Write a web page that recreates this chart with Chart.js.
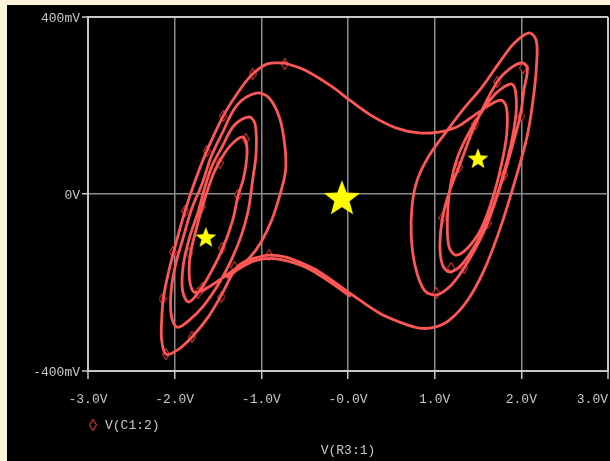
<!DOCTYPE html>
<html><head><meta charset="utf-8">
<script src="https://cdn.jsdelivr.net/npm/chart.js@4/dist/chart.umd.min.js"></script>
<style>
html,body{margin:0;padding:0;background:#fdf4dc;width:610px;height:461px;overflow:hidden;}
#wrap{position:absolute;left:7px;top:5px;width:603px;height:456px;background:#000;}
canvas{display:block;}
</style></head><body>
<div id="wrap"><canvas id="c" width="603" height="456" style="width:603px;height:456px"></canvas></div>
<script>
// ---- tick labels ----
const xTickLabels = ['-3.0V', '-2.0V', '-1.0V', '-0.0V', '1.0V', '2.0V', '3.0V'];
const yTickLabels = ['-400mV', '0V', '400mV'];
const xTitle = 'V(R3:1)';
const legendLabel = 'V(C1:2)';

// ---- trajectory V(R3:1) [V] vs V(C1:2) [mV] ----
const upperTransitV  = [-0.73, -0.50, -0.18, 0.02, 0.28, 0.56, 0.82, 1.05, 1.25, 1.40, 1.51, 1.65];
const upperTransitMV = [296, 280, 242, 212, 176, 149, 138, 140, 151, 170, 185, 203];

const rightScrollV = [1.77, 1.83, 1.83, 1.77, 1.67, 1.54, 1.38, 1.24, 1.16, 1.15, 1.19, 1.26, 1.38, 1.54, 1.71,
  1.88, 1.93, 1.94, 1.88, 1.78, 1.65, 1.49, 1.31, 1.17, 1.09, 1.06, 1.09, 1.17, 1.28, 1.47, 1.72,
  1.88, 2.01, 2.07, 2.03, 1.99, 1.90, 1.80, 1.61, 1.46, 1.34, 1.19, 1.02, 0.88, 0.78, 0.73, 0.74,
  0.80, 0.94, 1.15, 1.34, 1.54, 1.75, 1.92, 2.09, 2.17, 2.18, 2.15, 2.07, 1.93, 1.75, 1.57, 1.38,
  1.17, 1.00, 0.82, 0.59];
const rightScrollMV = [212, 194, 133, 66, -9, -77, -122, -138, -115, -41, 27, 81, 133, 185, 228,
  249, 235, 185, 111, 36, -41, -108, -160, -176, -160, -115, -54, 5, 61, 158, 253,
  285, 296, 285, 235, 179, 111, 43, -66, -127, -167, -206, -228, -217, -167, -97, -25,
  32, 88, 145, 194, 240, 298, 341, 364, 348, 307, 235, 133, 32, -81, -172, -240,
  -285, -301, -303, -289];

const lowerTransitV  = [0.36, 0.02, -0.33, -0.56, -0.73, -0.91, -1.08, -1.20];
const lowerTransitMV = [-269, -224, -176, -154, -142, -138, -145, -156];

const leftScrollV = [-1.35, -1.52, -1.67, -1.78, -1.83, -1.82, -1.76, -1.69, -1.62, -1.55, -1.46, -1.35, -1.22,
  -1.17, -1.17, -1.21, -1.27, -1.33, -1.44, -1.58, -1.72, -1.84, -1.91, -1.90, -1.83, -1.73, -1.65,
  -1.57, -1.46, -1.31, -1.14, -1.07, -1.06, -1.10, -1.15, -1.23, -1.33, -1.48, -1.66, -1.83, -1.97,
  -2.04, -2.04, -1.99, -1.91, -1.80, -1.68, -1.58, -1.45, -1.28, -1.06, -0.91, -0.79, -0.73, -0.72,
  -0.78, -0.88, -1.00, -1.14, -1.29, -1.46, -1.62, -1.80, -1.97, -2.10, -2.15, -2.15, -2.13, -2.07,
  -1.99, -1.88, -1.76, -1.63, -1.44, -1.25, -1.10, -0.93];
const leftScrollMV = [-176, -199, -217, -221, -190, -138, -86, -36, 9, 47, 81, 111, 129,
  111, 77, 32, -5, -59, -120, -176, -221, -244, -217, -160, -99, -41, 16,
  63, 104, 156, 174, 156, 93, 32, -36, -93, -142, -199, -251, -285, -301,
  -273, -217, -160, -104, -32, 25, 84, 138, 201, 228, 217, 172, 111, 54,
  2, -59, -108, -145, -167, -228, -280, -323, -353, -362, -330, -285, -235, -176,
  -115, -38, 32, 97, 176, 235, 271, 294];

// second pass along the lower transit (thick band)
const bandV  = [0.02, -0.33, -0.56, -0.85, -1.08, -1.25, -1.39];
const bandMV = [-230, -183, -160, -146, -151, -168, -188];

// diamond markers of the V(C1:2) trace
const markerV  = [-0.73, -1.10, -1.44, -1.63, -1.18, -1.48, -1.27, -1.88, -1.69, -2.02, -1.83, -1.45, -1.31, -0.91,
  -2.14, -1.73, -1.68, -1.46, -1.80, -2.10,
  2.02, 1.72, 2.00, 1.47, 1.28, 1.80, 1.09, 1.61, 1.19, 1.34, 1.02];
const markerMV = [294, 271, 176, 97, 124, 70, -2, -38, -29, -131, -133, -122, -165, -138,
  -237, -224, -212, -233, -323, -362,
  285, 253, 176, 158, 61, 43, -54, -66, -167, -167, -224];

// equilibrium stars
const starV  = [-1.64, 1.50, -0.07];
const starMV = [-97, 81, -7];

// ---- helpers ----
function pts(xs, ys) { return xs.map((x, i) => ({x: x, y: ys[i]})); }
const loopPts = [].concat(
  pts(upperTransitV, upperTransitMV),
  pts(rightScrollV, rightScrollMV),
  pts(lowerTransitV, lowerTransitMV),
  pts(leftScrollV, leftScrollMV),
  pts(upperTransitV.slice(0, 1), upperTransitMV.slice(0, 1))
);

function makeStar(R) {
  const c = document.createElement('canvas');
  const s = Math.ceil(R * 2 + 2);
  c.width = s; c.height = s;
  const g = c.getContext('2d');
  g.fillStyle = '#ffff00';
  g.beginPath();
  const cx = s / 2, cy = s / 2 + R * 0.1, r = R * 0.42;
  for (let i = 0; i < 10; i++) {
    const a = -Math.PI / 2 + i * Math.PI / 5;
    const rr = i % 2 === 0 ? R : r;
    const px = cx + rr * Math.cos(a), py = cy + rr * Math.sin(a);
    if (i === 0) g.moveTo(px, py); else g.lineTo(px, py);
  }
  g.closePath(); g.fill();
  return c;
}
function makeDiamond() {
  const c = document.createElement('canvas');
  c.width = 8; c.height = 12;
  const g = c.getContext('2d');
  g.beginPath();
  g.moveTo(4, 0.5); g.lineTo(7.5, 6); g.lineTo(4, 11.5); g.lineTo(0.5, 6); g.closePath();
  g.fillStyle = '#000'; g.fill();
  g.strokeStyle = '#c83434'; g.lineWidth = 1.2; g.stroke();
  return c;
}
const smallStar = makeStar(11);
const bigStar = makeStar(19);
const diamondImg = makeDiamond();

const FONT = {family: '"Liberation Mono", "DejaVu Sans Mono", monospace', size: 13};
const TXT = '#c8c8c8';
const LINE = '#ff5656';

const legendPlugin = {
  id: 'pspiceLegend',
  afterDraw(chart) {
    const {ctx, chartArea} = chart;
    const x = chartArea.left + 5, y = chartArea.bottom + 54;
    ctx.save();
    ctx.drawImage(diamondImg, x - diamondImg.width / 2, y - diamondImg.height / 2);
    ctx.fillStyle = TXT;
    ctx.font = FONT.size + 'px ' + FONT.family;
    ctx.textBaseline = 'middle';
    ctx.textAlign = 'left';
    ctx.fillText(legendLabel, x + 12, y + 1);
    ctx.restore();
  }
};

new Chart(document.getElementById('c'), {
  type: 'scatter',
  data: {
    datasets: [
      {data: loopPts, showLine: true, borderColor: LINE, borderWidth: 2.8, pointRadius: 0, tension: 0.35,
       borderJoinStyle: 'round', borderCapStyle: 'round', fill: false},
      {data: pts(bandV, bandMV), showLine: true, borderColor: LINE, borderWidth: 2.8, pointRadius: 0, tension: 0.35,
       borderCapStyle: 'round', fill: false},
      {data: pts(markerV, markerMV), showLine: false, pointStyle: diamondImg, pointRadius: 4},
      {data: pts(starV, starMV), showLine: false, pointRadius: 4,
       pointStyle: (c) => c.dataIndex === 2 ? bigStar : smallStar}
    ]
  },
  options: {
    responsive: false,
    animation: false,
    events: [],
    layout: {autoPadding: false, padding: {left: 0, top: 12, right: 2, bottom: 0}},
    plugins: {legend: {display: false}, tooltip: {enabled: false}},
    scales: {
      x: {
        type: 'linear', min: -3, max: 3,
        afterFit: (s) => { s.height = 90; s.paddingLeft = 0; s.paddingRight = 0; },
        ticks: {stepSize: 1, color: TXT, font: FONT, padding: 13, maxRotation: 0, autoSkip: false,
          callback: (v, i) => i === xTickLabels.length - 1 ? xTickLabels[i] + '    ' : xTickLabels[i]},
        grid: {
          color: (c) => (c.tick && Math.abs(c.tick.value) === 3) ? '#c8c8c8' : '#8c8c8c',
          lineWidth: (c) => (c.tick && Math.abs(c.tick.value) === 3) ? 2 : 1.5,
          tickColor: '#c8c8c8', tickWidth: 1.5, tickLength: 8, drawTicks: true
        },
        border: {display: true, color: '#c8c8c8', width: 2},
        title: {display: true, text: xTitle, color: TXT, font: FONT, padding: {top: 0, bottom: 3}}
      },
      y: {
        type: 'linear', min: -400, max: 400,
        afterFit: (s) => { s.width = 81; s.paddingTop = 0; s.paddingBottom = 0; },
        ticks: {stepSize: 400, color: TXT, font: FONT, padding: 2, labelOffset: 2,
          callback: (v, i) => yTickLabels[i]},
        grid: {
          color: (c) => (c.tick && c.tick.value === 0) ? '#8c8c8c' : '#c8c8c8',
          lineWidth: (c) => (c.tick && c.tick.value === 0) ? 1.5 : 2,
          tickColor: '#c8c8c8', tickWidth: 1.5, tickLength: 6
        },
        border: {display: true, color: '#c8c8c8', width: 2}
      }
    }
  },
  plugins: [legendPlugin]
});
</script>
</body></html>
